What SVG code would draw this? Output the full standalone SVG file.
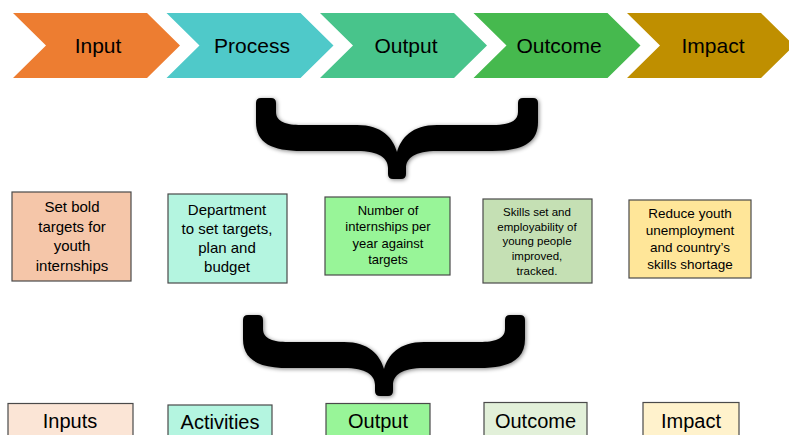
<svg xmlns="http://www.w3.org/2000/svg" width="789" height="435" viewBox="0 0 789 435">
<defs>
<style>
text{font-family:"Liberation Sans",Arial,sans-serif;fill:#000;text-anchor:middle}
.ch{font-size:21px}
.bx{stroke:#4a4a4a;stroke-width:1.2}
.t15{font-size:15px}
.t13{font-size:13px}
.t12{font-size:11.5px}
.t135{font-size:13.5px}
.lab{font-size:20px}
</style>
<polygon id="chev" points="0,0 134,0 167,32.5 134,65 0,65 33,32.5"/>
<path id="brace" d="M-141,5 Q-141,0 -136,0 L-126,0 Q-121,0 -121,5 L-121,14 C-121,24 -110,27 -96,27 L-40,27 C-15,27 -4,40 0,54 C4,40 15,27 40,27 L96,27 C110,27 121,24 121,14 L121,5 Q121,0 126,0 L136,0 Q141,0 141,5 L141,24 C141,45 125,53 95,53 L40,53 C18,53 9,60 9,70 L9,76 Q9,81 4,81 L-4,81 Q-9,81 -9,76 L-9,70 C-9,60 -18,53 -40,53 L-95,53 C-125,53 -141,45 -141,24 Z"/>
<filter id="sh" x="-10%" y="-20%" width="120%" height="140%">
<feGaussianBlur in="SourceAlpha" stdDeviation="2"/>
<feOffset dx="1" dy="1" result="b"/>
<feComponentTransfer><feFuncA type="linear" slope="0.5"/></feComponentTransfer>
<feMerge><feMergeNode/><feMergeNode in="SourceGraphic"/></feMerge>
</filter>
</defs>
<rect width="789" height="435" fill="#fff"/>

<g id="chev-input"><use href="#chev" x="13" y="13" fill="#ED7D31"/><text class="ch" x="98" y="53">Input</text></g>
<g id="chev-process"><use href="#chev" x="166.5" y="13" fill="#4FC9C9"/><text class="ch" x="252" y="53">Process</text></g>
<g id="chev-output"><use href="#chev" x="320" y="13" fill="#48C48B"/><text class="ch" x="406" y="53">Output</text></g>
<g id="chev-outcome"><use href="#chev" x="473.5" y="13" fill="#46B94E"/><text class="ch" x="559" y="53">Outcome</text></g>
<g id="chev-impact"><use href="#chev" x="627" y="13" fill="#BF8F00"/><text class="ch" x="713" y="53">Impact</text></g>

<g id="connectors">
<use href="#brace" transform="translate(397,98)" fill="#000" filter="url(#sh)"/>
<use href="#brace" transform="translate(384,315)" fill="#000" filter="url(#sh)"/>
</g>

<g id="box-input">
<rect class="bx" x="12" y="192" width="119" height="89" fill="#F5C6A9"/>
<text class="t15" x="72" y="212">Set bold</text>
<text class="t15" x="72" y="231.5">targets for</text>
<text class="t15" x="72" y="251">youth</text>
<text class="t15" x="72" y="270.5">internships</text>
</g>
<g id="box-process">
<rect class="bx" x="168" y="194" width="119" height="89" fill="#B4F5E0"/>
<text class="t15" x="227" y="215">Department</text>
<text class="t15" x="227" y="234">to set targets,</text>
<text class="t15" x="227" y="253">plan and</text>
<text class="t15" x="227" y="272">budget</text>
</g>
<g id="box-output">
<rect class="bx" x="325" y="197" width="125" height="78" fill="#98F598"/>
<text class="t13" x="388" y="214.5">Number of</text>
<text class="t13" x="388" y="231">internships per</text>
<text class="t13" x="388" y="247.5">year against</text>
<text class="t13" x="388" y="264">targets</text>
</g>
<g id="box-outcome">
<rect class="bx" x="483" y="199" width="109" height="84" fill="#C5E0B4"/>
<text class="t12" x="537" y="216">Skills set and</text>
<text class="t12" x="537" y="230.5">employability of</text>
<text class="t12" x="537" y="245">young people</text>
<text class="t12" x="537" y="260">improved,</text>
<text class="t12" x="537" y="275">tracked.</text>
</g>
<g id="box-impact">
<rect class="bx" x="629" y="200" width="122" height="78" fill="#FFE699"/>
<text class="t135" x="690" y="218">Reduce youth</text>
<text class="t135" x="690" y="235">unemployment</text>
<text class="t135" x="690" y="252">and country’s</text>
<text class="t135" x="690" y="269">skills shortage</text>
</g>

<g id="lab-inputs"><rect class="bx" x="8" y="403.5" width="125" height="40" fill="#FBE5D6"/><text class="lab" x="70" y="428">Inputs</text></g>
<g id="lab-activities"><rect class="bx" x="168" y="405" width="104" height="40" fill="#B4F5E0"/><text class="lab" x="220" y="429">Activities</text></g>
<g id="lab-output"><rect class="bx" x="326" y="403.5" width="104" height="40" fill="#98F598"/><text class="lab" x="378" y="428">Output</text></g>
<g id="lab-outcome"><rect class="bx" x="484" y="402.5" width="103" height="40" fill="#E2F0D9"/><text class="lab" x="535.5" y="428">Outcome</text></g>
<g id="lab-impact"><rect class="bx" x="643" y="402.5" width="96" height="40" fill="#FFF2CC"/><text class="lab" x="691" y="428">Impact</text></g>
</svg>
